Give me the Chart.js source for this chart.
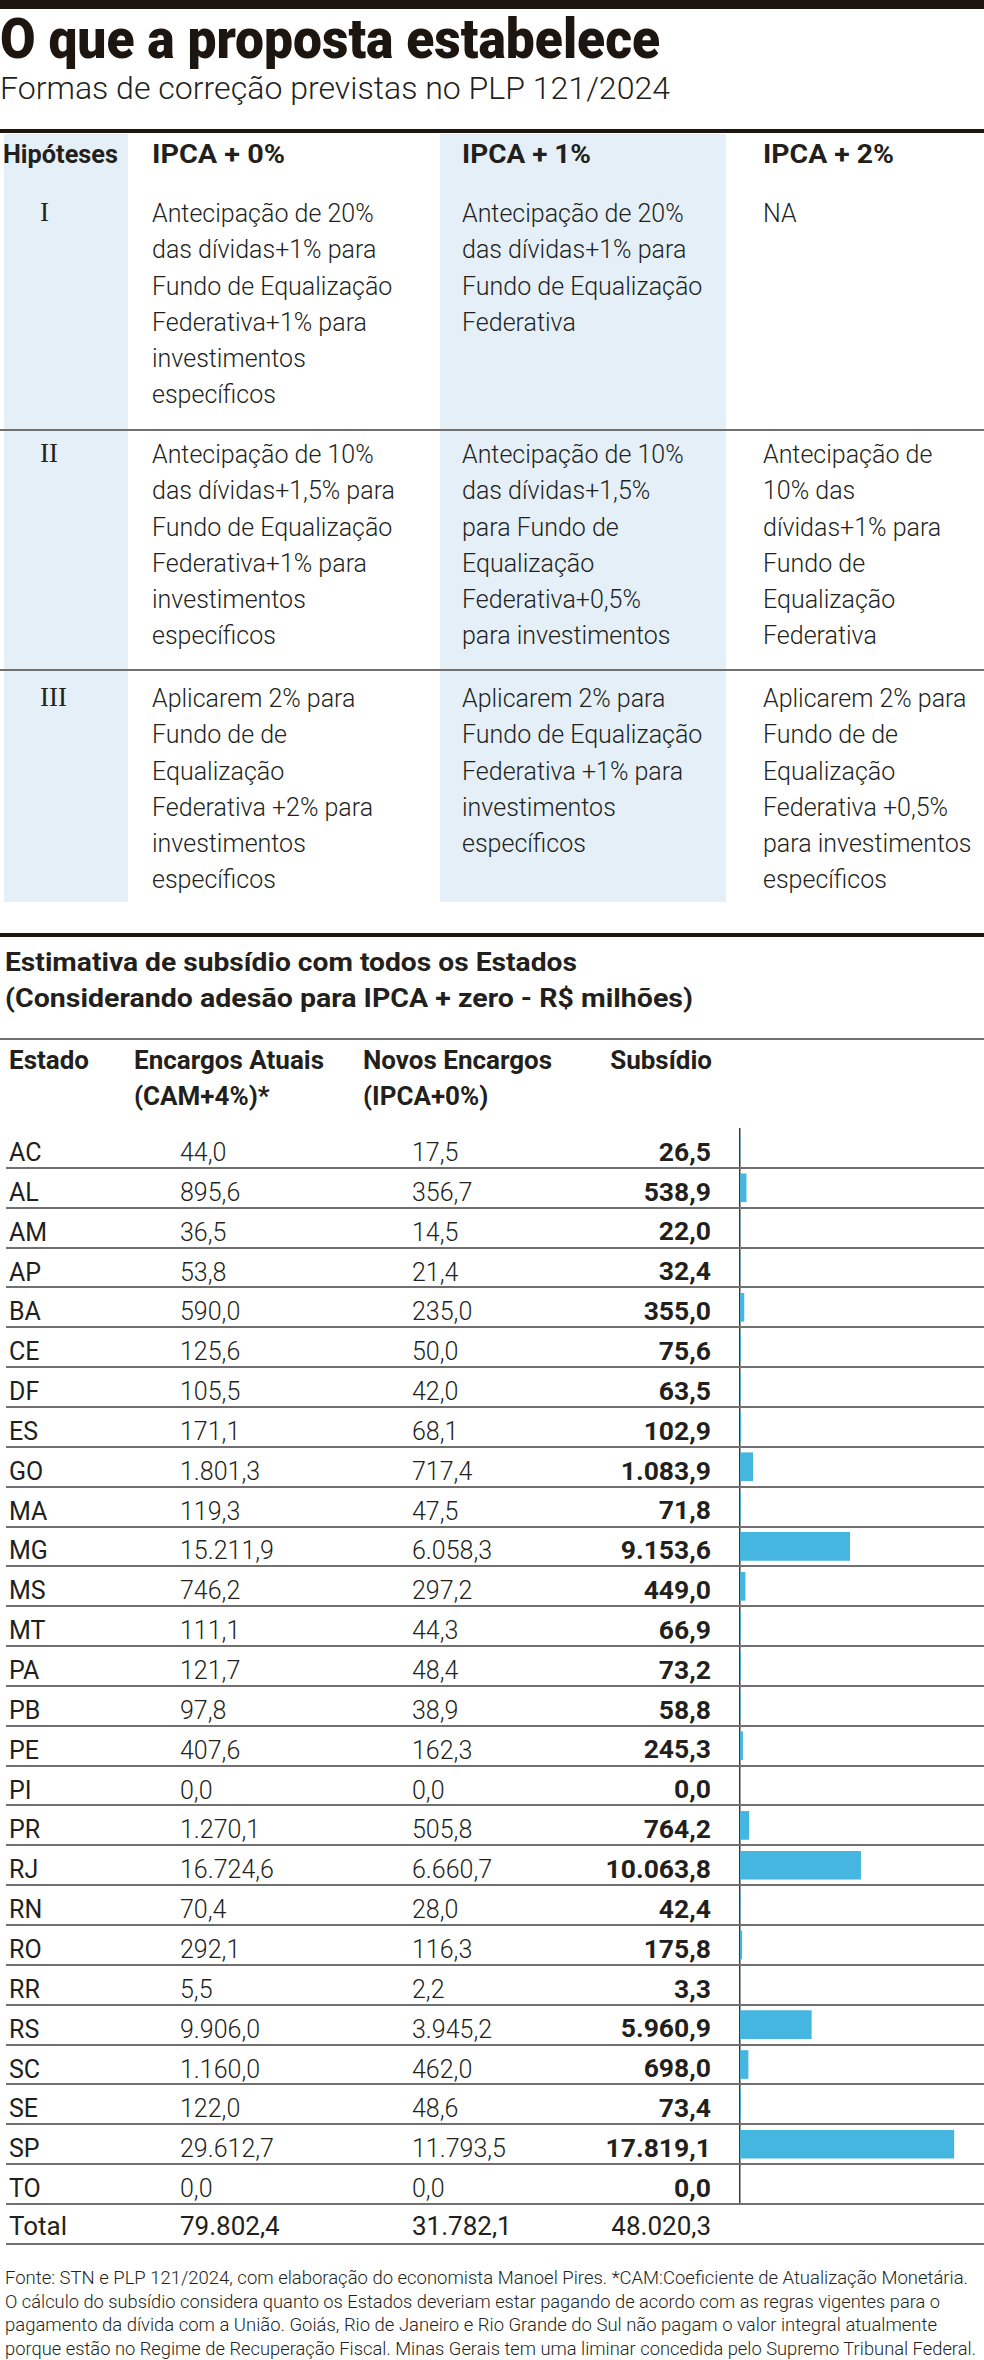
<!DOCTYPE html>
<html lang="pt-BR">
<head>
<meta charset="utf-8">
<title>O que a proposta estabelece</title>
<script src="https://cdn.jsdelivr.net/npm/chart.js@4.4.1/dist/chart.umd.min.js"></script>
<style>
  html, body { margin: 0; padding: 0; background: #fff; }
  #page {
    position: relative; width: 984px; height: 2360px; overflow: hidden;
    font-family: Roboto, "Noto Sans", "Liberation Sans", sans-serif; color: #231f1c;
  }
  .t { position: absolute; white-space: nowrap; transform-origin: 0 0; }
  .b { position: absolute; }
  #chartBox { position: absolute; left: 739px; top: 1128px; width: 245px; height: 1076px; }
</style>
</head>
<body>
<div id="page">
  <div id="chartBox"><canvas id="chart"></canvas></div>
</div>
<script>
// ---- dados: quadro das hipóteses ----
const hipoteses = ["I", "II", "III"];
const colunasIpca = ["IPCA + 0%", "IPCA + 1%", "IPCA + 2%"];
const celulas = [
  [
    ["Antecipação de 20%", "das dívidas+1% para", "Fundo de Equalização", "Federativa+1% para", "investimentos", "específicos"],
    ["Antecipação de 20%", "das dívidas+1% para", "Fundo de Equalização", "Federativa"],
    ["NA"]
  ],
  [
    ["Antecipação de 10%", "das dívidas+1,5% para", "Fundo de Equalização", "Federativa+1% para", "investimentos", "específicos"],
    ["Antecipação de 10%", "das dívidas+1,5%", "para Fundo de", "Equalização", "Federativa+0,5%", "para investimentos"],
    ["Antecipação de", "10% das", "dívidas+1% para", "Fundo de", "Equalização", "Federativa"]
  ],
  [
    ["Aplicarem 2% para", "Fundo de de", "Equalização", "Federativa +2% para", "investimentos", "específicos"],
    ["Aplicarem 2% para", "Fundo de Equalização", "Federativa +1% para", "investimentos", "específicos"],
    ["Aplicarem 2% para", "Fundo de de", "Equalização", "Federativa +0,5%", "para investimentos", "específicos"]
  ]
];

// ---- dados: estimativa de subsídio (R$ milhões) ----
const estados = ["AC", "AL", "AM", "AP", "BA", "CE", "DF", "ES", "GO", "MA", "MG", "MS", "MT", "PA",
  "PB", "PE", "PI", "PR", "RJ", "RN", "RO", "RR", "RS", "SC", "SE", "SP", "TO"];
const encargosAtuais = [44.0, 895.6, 36.5, 53.8, 590.0, 125.6, 105.5, 171.1, 1801.3, 119.3, 15211.9, 746.2,
  111.1, 121.7, 97.8, 407.6, 0.0, 1270.1, 16724.6, 70.4, 292.1, 5.5, 9906.0, 1160.0, 122.0, 29612.7, 0.0];
const novosEncargos = [17.5, 356.7, 14.5, 21.4, 235.0, 50.0, 42.0, 68.1, 717.4, 47.5, 6058.3, 297.2,
  44.3, 48.4, 38.9, 162.3, 0.0, 505.8, 6660.7, 28.0, 116.3, 2.2, 3945.2, 462.0, 48.6, 11793.5, 0.0];
const subsidio = [26.5, 538.9, 22.0, 32.4, 355.0, 75.6, 63.5, 102.9, 1083.9, 71.8, 9153.6, 449.0,
  66.9, 73.2, 58.8, 245.3, 0.0, 764.2, 10063.8, 42.4, 175.8, 3.3, 5960.9, 698.0, 73.4, 17819.1, 0.0];
const totais = [79802.4, 31782.1, 48020.3];

const notas = [
  "Fonte: STN e PLP 121/2024, com elaboração do economista Manoel Pires. *CAM:Coeficiente de Atualização Monetária.",
  "O cálculo do subsídio considera quanto os Estados deveriam estar pagando de acordo com as regras vigentes para o",
  "pagamento da dívida com a União. Goiás, Rio de Janeiro e Rio Grande do Sul não pagam o valor integral atualmente",
  "porque estão no Regime de Recuperação Fiscal. Minas Gerais tem uma liminar concedida pelo Supremo Tribunal Federal."
];

const page = document.getElementById("page");
const INK = "#231f1c";
const RULE = "#1c1510";
const GRID = "#707070";

function fmt(v) {
  const [i, d] = v.toFixed(1).split(".");
  return i.replace(/\B(?=(\d{3})+(?!\d))/g, ".") + "," + d;
}

function box(x, y, w, h, color) {
  const d = document.createElement("div");
  d.className = "b";
  d.style.cssText = `left:${x}px;top:${y}px;width:${w}px;height:${h}px;background:${color}`;
  page.appendChild(d);
  return d;
}

// texto posicionado pela linha de base
function text(str, x, baseline, size, weight, opt = {}) {
  const d = document.createElement("div");
  d.className = "t";
  d.textContent = str;
  d.style.fontSize = size + "px";
  d.style.lineHeight = size + "px";
  d.style.fontWeight = weight;
  d.style.color = opt.color || INK;
  if (opt.family) d.style.fontFamily = opt.family;
  d.style.top = (baseline - 0.842 * size) + "px";
  if (opt.right) {
    d.style.right = (984 - x) + "px";
    d.style.textAlign = "right";
    d.style.transformOrigin = "100% 0";
  } else {
    d.style.left = x + "px";
  }
  page.appendChild(d);
  if (opt.fit) {
    const w = d.getBoundingClientRect().width;
    d.style.transform = `scaleX(${opt.fit / w})`;
  }
  return d;
}

// ---- cabeçalho ----
box(0, 0, 984, 9, RULE);
text("O que a proposta estabelece", 0, 58, 56, 900, { color: RULE, fit: 660 });
text("Formas de correção previstas no PLP 121/2024", 0, 99, 31, 300, { fit: 670 });
box(0, 129, 984, 4, RULE);

// ---- quadro das hipóteses ----
box(4, 134, 124, 768, "#e4eff7");
box(440, 134, 286, 768, "#e4eff7");
box(0, 429, 984, 2, GRID);
box(0, 669, 984, 2, GRID);

const colX = [152, 462, 763];
const largIpca = [133, 129, 131];
text("Hipóteses", 3, 163, 26, 700, { fit: 115 });
colunasIpca.forEach((c, i) => text(c, colX[i], 163, 26, 700, { fit: largIpca[i] }));

const rowBase = [222, 463, 707];
const passo = 36.3;
hipoteses.forEach((h, r) => {
  text(h, 40, rowBase[r], 27, 400, { family: '"Liberation Serif", "DejaVu Serif", serif' });
  celulas[r].forEach((linhas, c) => {
    linhas.forEach((l, k) => text(l, colX[c], rowBase[r] + k * passo, 25, 300));
  });
});

// ---- estimativa de subsídio ----
box(0, 933, 984, 4, RULE);
text("Estimativa de subsídio com todos os Estados", 5, 971, 26, 700, { fit: 572 });
text("(Considerando adesão para IPCA + zero - R$ milhões)", 5, 1007, 26, 700, { fit: 688 });
box(0, 1038, 984, 2, GRID);

text("Estado", 9, 1069, 26, 700);
text("Encargos Atuais", 134, 1069, 26, 700);
text("(CAM+4%)*", 134, 1105, 26, 700);
text("Novos Encargos", 363, 1069, 26, 700);
text("(IPCA+0%)", 363, 1105, 26, 700);
text("Subsídio", 712, 1069, 26, 700, { right: true });

const topo = 1128;
const alturaLinha = 1076 / estados.length;
estados.forEach((uf, i) => {
  const y0 = topo + i * alturaLinha;
  const base = y0 + 33;
  text(uf, 9, base, 25, 400);
  text(fmt(encargosAtuais[i]), 180, base, 25, 300);
  text(fmt(novosEncargos[i]), 412, base, 25, 300);
  text(fmt(subsidio[i]), 711, base, 26.5, 700, { right: true });
  box(6, y0 + alturaLinha - 1, 978, 2, GRID);
});
const baseTotal = topo + 1076 + 31;
text("Total", 9, baseTotal, 26, 400);
text(fmt(totais[0]), 180, baseTotal, 26, 400);
text(fmt(totais[1]), 412, baseTotal, 26, 400);
text(fmt(totais[2]), 711, baseTotal, 26, 400, { right: true });
box(6, 2243, 978, 2, GRID);

const notaW = [963, 935, 932, 971];
notas.forEach((n, i) => text(n, 5, 2285 + i * 23.5, 18.5, 300, { fit: notaW[i] }));

// ---- barras do subsídio ----
const ctx = document.getElementById("chart").getContext("2d");
new Chart(ctx, {
  type: "bar",
  data: {
    labels: estados,
    datasets: [{
      data: subsidio,
      backgroundColor: "#45b6df",
      borderWidth: 0,
      barPercentage: 0.72,
      categoryPercentage: 1,
    }],
  },
  options: {
    indexAxis: "y",
    responsive: true,
    maintainAspectRatio: false,
    animation: false,
    layout: { padding: { left: 1, right: 0, top: 0, bottom: 0 } },
    plugins: { legend: { display: false }, tooltip: { enabled: false } },
    scales: {
      x: { display: false, min: 0, max: 20300 },
      y: {
        display: true,
        ticks: { display: false },
        grid: { display: false, drawTicks: false },
        border: { display: true, color: "#3a3a3a", width: 1.5 },
      },
    },
  },
});
</script>
</body>
</html>
